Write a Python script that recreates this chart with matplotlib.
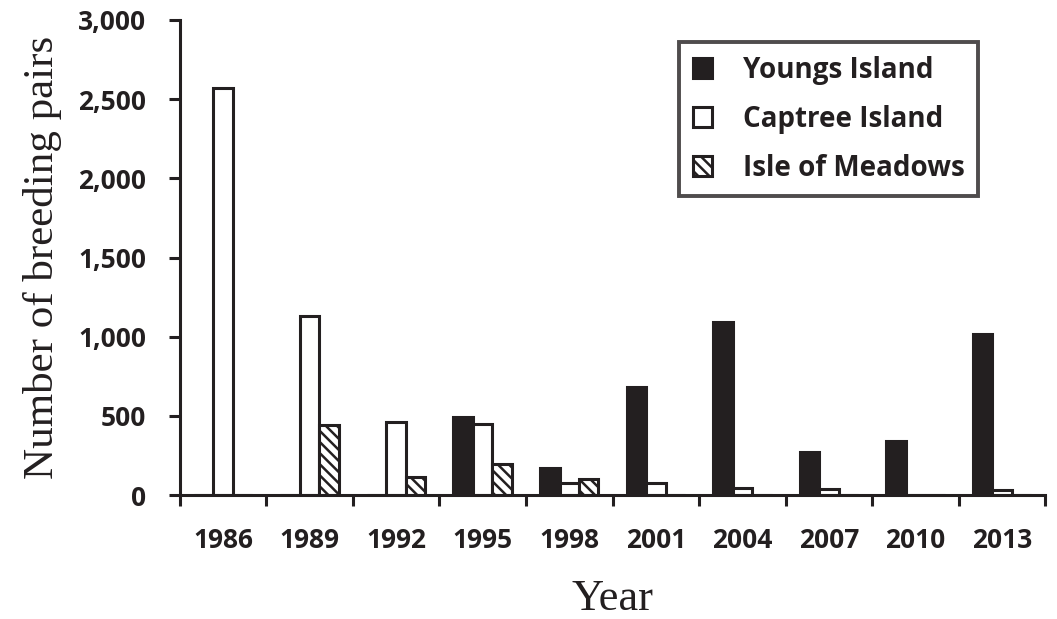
import matplotlib.pyplot as plt
import numpy as np

# data
years = ["1986", "1989", "1992", "1995", "1998", "2001", "2004", "2007", "2010", "2013"]
youngs = [0, 0, 0, 495, 170, 685, 1095, 275, 345, 1020]
captree = [2570, 1130, 460, 450, 80, 75, 45, 40, 0, 30]
meadows = [0, 440, 115, 195, 105, 0, 0, 0, 0, 0]
series_names = ["Youngs Island", "Captree Island", "Isle of Meadows"]
y_ticks = [0, 500, 1000, 1500, 2000, 2500, 3000]

plt.rcParams['hatch.linewidth'] = 1.8
ink = '#231f20'

fig = plt.figure(figsize=(10.57, 6.19), dpi=100)
ax = fig.add_axes([0.170, 0.200, 0.819, 0.768])

x = np.arange(len(years))
w = 0.225
bar_kw = dict(edgecolor=ink, linewidth=2.2)

ax.bar(x - w, youngs, w, color=ink, label=series_names[0], **bar_kw)
ax.bar(x, captree, w, color='white', label=series_names[1], **bar_kw)
ax.bar(x + w, meadows, w, color='white', hatch='\\\\\\', label=series_names[2], **bar_kw)

ax.set_xlim(-0.5, len(years) - 0.5)
ax.set_ylim(0, 3000)

tick_font = dict(family='Open Sans', weight='bold', size=19)

ax.set_yticks(y_ticks)
ax.set_yticklabels([f"{v:,}" for v in y_ticks], **tick_font, color=ink)
ax.set_xticks(x)
ax.set_xticklabels(years, **tick_font, color=ink)
ax.set_xticks(np.arange(len(years) + 1) - 0.5, minor=True)
ax.tick_params(axis='x', which='major', length=0, pad=23)
ax.tick_params(axis='x', which='minor', length=8, width=2.2, color=ink)
ax.tick_params(axis='y', length=8, width=2.2, color=ink, pad=16)

for side in ['top', 'right']:
    ax.spines[side].set_visible(False)
for side in ['left', 'bottom']:
    ax.spines[side].set_linewidth(2.2)
    ax.spines[side].set_color(ink)

ax.set_ylabel("Number of breeding pairs", family='Liberation Serif', size=31, labelpad=12, color=ink)
ax.set_xlabel("Year", family='Liberation Serif', size=32, labelpad=18, color=ink)

leg = ax.legend(loc='upper right', bbox_to_anchor=(0.9225, 0.954), borderaxespad=0,
                prop=dict(family='Open Sans', weight='bold', size=20),
                frameon=True, fancybox=False, handlelength=0.7, handleheight=0.7,
                handletextpad=1.1, borderpad=0.5, labelspacing=0.72)
leg.get_frame().set_edgecolor(ink)
leg.get_frame().set_linewidth(2.8)
for t in leg.get_texts():
    t.set_color(ink)

fig.savefig("out.png", dpi=100)
